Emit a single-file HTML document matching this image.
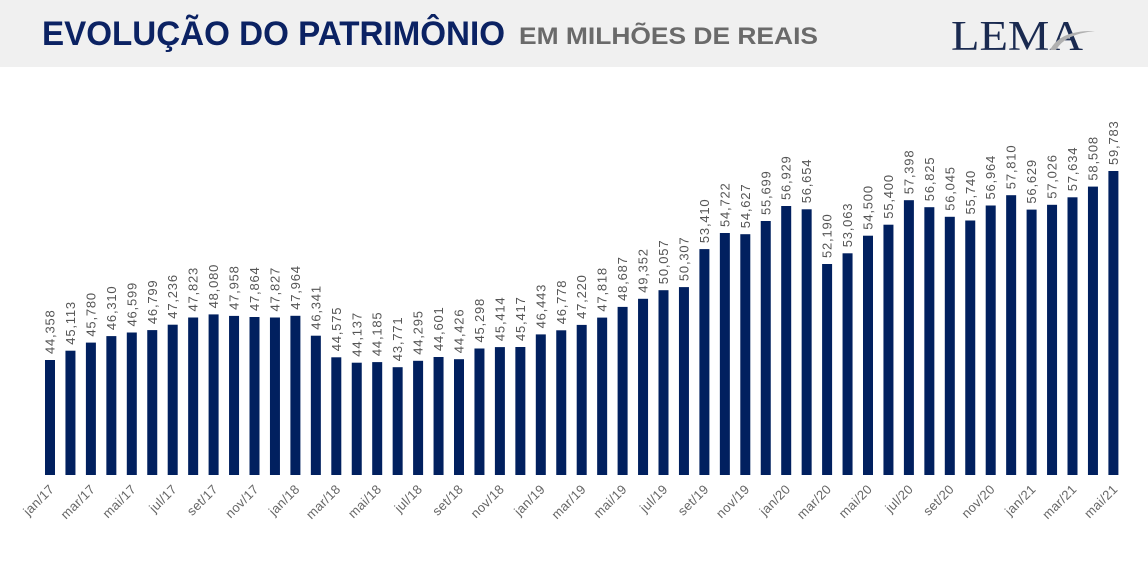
<!DOCTYPE html>
<html><head><meta charset="utf-8"><style>
html,body{margin:0;padding:0;background:#fff;}
svg{display:block;}
</style></head><body>
<svg width="1148" height="587" viewBox="0 0 1148 587" xmlns="http://www.w3.org/2000/svg" font-family="Liberation Sans, sans-serif">
<rect x="0" y="0" width="1148" height="67" fill="#f0f0f0"/>
<text x="42" y="45" font-size="34" font-weight="bold" fill="#0b2263" textLength="463" lengthAdjust="spacingAndGlyphs">EVOLUÇÃO DO PATRIMÔNIO</text>
<text x="519" y="44" font-size="24" font-weight="bold" fill="#6a6a6a" textLength="299" lengthAdjust="spacingAndGlyphs">EM MILHÕES DE REAIS</text>
<text x="951" y="50" font-family="Liberation Serif, serif" font-size="42" fill="#1a2a50" textLength="132" lengthAdjust="spacingAndGlyphs">LEMA</text>
<path d="M1050 50 Q1060 30 1095 31 Q1065 34 1056 50 Z" fill="#b0b0b0"/>
<g fill="#01205f">
<rect x="45" y="360.0" width="10" height="115.0"/><rect x="65.45" y="350.7" width="10" height="124.3"/><rect x="85.9" y="342.6" width="10" height="132.4"/><rect x="106.35" y="336.1" width="10" height="138.9"/><rect x="126.8" y="332.5" width="10" height="142.5"/><rect x="147.25" y="330.1" width="10" height="144.9"/><rect x="167.7" y="324.7" width="10" height="150.3"/><rect x="188.15" y="317.5" width="10" height="157.5"/><rect x="208.6" y="314.4" width="10" height="160.6"/><rect x="229.05" y="315.9" width="10" height="159.1"/><rect x="249.5" y="317.0" width="10" height="158.0"/><rect x="269.95" y="317.5" width="10" height="157.5"/><rect x="290.4" y="315.8" width="10" height="159.2"/><rect x="310.85" y="335.7" width="10" height="139.3"/><rect x="331.3" y="357.3" width="10" height="117.7"/><rect x="351.75" y="362.7" width="10" height="112.3"/><rect x="372.2" y="362.1" width="10" height="112.9"/><rect x="392.65" y="367.2" width="10" height="107.8"/><rect x="413.1" y="360.8" width="10" height="114.2"/><rect x="433.55" y="357.0" width="10" height="118.0"/><rect x="454.0" y="359.2" width="10" height="115.8"/><rect x="474.45" y="348.5" width="10" height="126.5"/><rect x="494.9" y="347.1" width="10" height="127.9"/><rect x="515.35" y="347.0" width="10" height="128.0"/><rect x="535.8" y="334.4" width="10" height="140.6"/><rect x="556.25" y="330.3" width="10" height="144.7"/><rect x="576.7" y="324.9" width="10" height="150.1"/><rect x="597.15" y="317.6" width="10" height="157.4"/><rect x="617.6" y="306.9" width="10" height="168.1"/><rect x="638.05" y="298.8" width="10" height="176.2"/><rect x="658.5" y="290.2" width="10" height="184.8"/><rect x="678.95" y="287.1" width="10" height="187.9"/><rect x="699.4" y="249.1" width="10" height="225.9"/><rect x="719.85" y="233.0" width="10" height="242.0"/><rect x="740.3" y="234.2" width="10" height="240.8"/><rect x="760.75" y="221.0" width="10" height="254.0"/><rect x="781.2" y="206.0" width="10" height="269.0"/><rect x="801.65" y="209.3" width="10" height="265.7"/><rect x="822.1" y="264.0" width="10" height="211.0"/><rect x="842.55" y="253.3" width="10" height="221.7"/><rect x="863.0" y="235.7" width="10" height="239.3"/><rect x="883.45" y="224.7" width="10" height="250.3"/><rect x="903.9" y="200.2" width="10" height="274.8"/><rect x="924.35" y="207.2" width="10" height="267.8"/><rect x="944.8" y="216.8" width="10" height="258.2"/><rect x="965.25" y="220.5" width="10" height="254.5"/><rect x="985.7" y="205.5" width="10" height="269.5"/><rect x="1006.15" y="195.2" width="10" height="279.8"/><rect x="1026.6" y="209.6" width="10" height="265.4"/><rect x="1047.05" y="204.8" width="10" height="270.2"/><rect x="1067.5" y="197.3" width="10" height="277.7"/><rect x="1087.95" y="186.6" width="10" height="288.4"/><rect x="1108.4" y="171.0" width="10" height="304.0"/>
</g>
<g fill="#555" font-size="13" letter-spacing="0.8">
<text transform="translate(54.5,354.0) rotate(-90)">44,358</text>
<text transform="translate(74.95,344.7) rotate(-90)">45,113</text>
<text transform="translate(95.4,336.6) rotate(-90)">45,780</text>
<text transform="translate(115.85,330.1) rotate(-90)">46,310</text>
<text transform="translate(136.3,326.5) rotate(-90)">46,599</text>
<text transform="translate(156.75,324.1) rotate(-90)">46,799</text>
<text transform="translate(177.2,318.7) rotate(-90)">47,236</text>
<text transform="translate(197.65,311.5) rotate(-90)">47,823</text>
<text transform="translate(218.1,308.4) rotate(-90)">48,080</text>
<text transform="translate(238.55,309.9) rotate(-90)">47,958</text>
<text transform="translate(259.0,311.0) rotate(-90)">47,864</text>
<text transform="translate(279.45,311.5) rotate(-90)">47,827</text>
<text transform="translate(299.9,309.8) rotate(-90)">47,964</text>
<text transform="translate(320.35,329.7) rotate(-90)">46,341</text>
<text transform="translate(340.8,351.3) rotate(-90)">44,575</text>
<text transform="translate(361.25,356.7) rotate(-90)">44,137</text>
<text transform="translate(381.7,356.1) rotate(-90)">44,185</text>
<text transform="translate(402.15,361.2) rotate(-90)">43,771</text>
<text transform="translate(422.6,354.8) rotate(-90)">44,295</text>
<text transform="translate(443.05,351.0) rotate(-90)">44,601</text>
<text transform="translate(463.5,353.2) rotate(-90)">44,426</text>
<text transform="translate(483.95,342.5) rotate(-90)">45,298</text>
<text transform="translate(504.4,341.1) rotate(-90)">45,414</text>
<text transform="translate(524.85,341.0) rotate(-90)">45,417</text>
<text transform="translate(545.3,328.4) rotate(-90)">46,443</text>
<text transform="translate(565.75,324.3) rotate(-90)">46,778</text>
<text transform="translate(586.2,318.9) rotate(-90)">47,220</text>
<text transform="translate(606.65,311.6) rotate(-90)">47,818</text>
<text transform="translate(627.1,300.9) rotate(-90)">48,687</text>
<text transform="translate(647.55,292.8) rotate(-90)">49,352</text>
<text transform="translate(668.0,284.2) rotate(-90)">50,057</text>
<text transform="translate(688.45,281.1) rotate(-90)">50,307</text>
<text transform="translate(708.9,243.1) rotate(-90)">53,410</text>
<text transform="translate(729.35,227.0) rotate(-90)">54,722</text>
<text transform="translate(749.8,228.2) rotate(-90)">54,627</text>
<text transform="translate(770.25,215.0) rotate(-90)">55,699</text>
<text transform="translate(790.7,200.0) rotate(-90)">56,929</text>
<text transform="translate(811.15,203.3) rotate(-90)">56,654</text>
<text transform="translate(831.6,258.0) rotate(-90)">52,190</text>
<text transform="translate(852.05,247.3) rotate(-90)">53,063</text>
<text transform="translate(872.5,229.7) rotate(-90)">54,500</text>
<text transform="translate(892.95,218.7) rotate(-90)">55,400</text>
<text transform="translate(913.4,194.2) rotate(-90)">57,398</text>
<text transform="translate(933.85,201.2) rotate(-90)">56,825</text>
<text transform="translate(954.3,210.8) rotate(-90)">56,045</text>
<text transform="translate(974.75,214.5) rotate(-90)">55,740</text>
<text transform="translate(995.2,199.5) rotate(-90)">56,964</text>
<text transform="translate(1015.65,189.2) rotate(-90)">57,810</text>
<text transform="translate(1036.1,203.6) rotate(-90)">56,629</text>
<text transform="translate(1056.55,198.8) rotate(-90)">57,026</text>
<text transform="translate(1077.0,191.3) rotate(-90)">57,634</text>
<text transform="translate(1097.45,180.6) rotate(-90)">58,508</text>
<text transform="translate(1117.9,165.0) rotate(-90)">59,783</text>
</g>
<g fill="#666" font-size="13" text-anchor="end" letter-spacing="0.3">
<text transform="translate(55,490) rotate(-45)">jan/17</text>
<text transform="translate(95.9,490) rotate(-45)">mar/17</text>
<text transform="translate(136.8,490) rotate(-45)">mai/17</text>
<text transform="translate(177.7,490) rotate(-45)">jul/17</text>
<text transform="translate(218.6,490) rotate(-45)">set/17</text>
<text transform="translate(259.5,490) rotate(-45)">nov/17</text>
<text transform="translate(300.4,490) rotate(-45)">jan/18</text>
<text transform="translate(341.3,490) rotate(-45)">mar/18</text>
<text transform="translate(382.2,490) rotate(-45)">mai/18</text>
<text transform="translate(423.1,490) rotate(-45)">jul/18</text>
<text transform="translate(464.0,490) rotate(-45)">set/18</text>
<text transform="translate(504.9,490) rotate(-45)">nov/18</text>
<text transform="translate(545.8,490) rotate(-45)">jan/19</text>
<text transform="translate(586.7,490) rotate(-45)">mar/19</text>
<text transform="translate(627.6,490) rotate(-45)">mai/19</text>
<text transform="translate(668.5,490) rotate(-45)">jul/19</text>
<text transform="translate(709.4,490) rotate(-45)">set/19</text>
<text transform="translate(750.3,490) rotate(-45)">nov/19</text>
<text transform="translate(791.2,490) rotate(-45)">jan/20</text>
<text transform="translate(832.1,490) rotate(-45)">mar/20</text>
<text transform="translate(873.0,490) rotate(-45)">mai/20</text>
<text transform="translate(913.9,490) rotate(-45)">jul/20</text>
<text transform="translate(954.8,490) rotate(-45)">set/20</text>
<text transform="translate(995.7,490) rotate(-45)">nov/20</text>
<text transform="translate(1036.6,490) rotate(-45)">jan/21</text>
<text transform="translate(1077.5,490) rotate(-45)">mar/21</text>
<text transform="translate(1118.4,490) rotate(-45)">mai/21</text>
</g>
</svg>
</body></html>
